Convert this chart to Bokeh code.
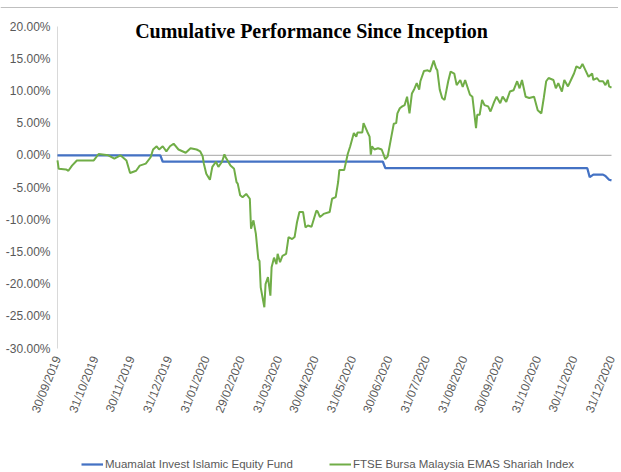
import pandas as pd
from bokeh.plotting import figure
from bokeh.models import Range1d, Label, Legend, LegendItem, ColumnDataSource
from bokeh.core.properties import value
from bokeh.embed import file_html
from bokeh.resources import INLINE

# ---------------- data ----------------
fund_name = "Muamalat Invest Islamic Equity Fund"
index_name = "FTSE Bursa Malaysia EMAS Shariah Index"

fund_dates = ["2019-09-30", "2019-12-24", "2019-12-26", "2020-06-25", "2020-06-27",
              "2020-12-11", "2020-12-13", "2020-12-16", "2020-12-24", "2020-12-26",
              "2020-12-29", "2020-12-31"]
fund_values = [0.0, 0.0, -1.0, -1.0, -2.0, -2.0, -3.4, -3.0, -3.0, -3.2, -3.8, -3.9]

index_dates = [
    "2019-09-30", "2019-10-01", "2019-10-07", "2019-10-09", "2019-10-12", "2019-10-16",
    "2019-10-30", "2019-11-03", "2019-11-11", "2019-11-16", "2019-11-21", "2019-11-26",
    "2019-11-29", "2019-12-04", "2019-12-07", "2019-12-12", "2019-12-16", "2019-12-18",
    "2019-12-21", "2019-12-23", "2019-12-26", "2019-12-29", "2020-01-01", "2020-01-04",
    "2020-01-08", "2020-01-14", "2020-01-18", "2020-01-23", "2020-01-26", "2020-01-28",
    "2020-01-29", "2020-01-31", "2020-02-03", "2020-02-05", "2020-02-08", "2020-02-10",
    "2020-02-13", "2020-02-15", "2020-02-16", "2020-02-20", "2020-02-23", "2020-02-25",
    "2020-02-26", "2020-02-28", "2020-03-01", "2020-03-04", "2020-03-07", "2020-03-08",
    "2020-03-10", "2020-03-12", "2020-03-14", "2020-03-15", "2020-03-16", "2020-03-19",
    "2020-03-20", "2020-03-22", "2020-03-24", "2020-03-25", "2020-03-27", "2020-03-29",
    "2020-03-30", "2020-04-01", "2020-04-03", "2020-04-06", "2020-04-08", "2020-04-11",
    "2020-04-13", "2020-04-15", "2020-04-17", "2020-04-20", "2020-04-22", "2020-04-24",
    "2020-04-27", "2020-05-01", "2020-05-02", "2020-05-04", "2020-05-07", "2020-05-12",
    "2020-05-14", "2020-05-17", "2020-05-19", "2020-05-20", "2020-05-24", "2020-05-27",
    "2020-05-29", "2020-06-01", "2020-06-03", "2020-06-04", "2020-06-08", "2020-06-09",
    "2020-06-12", "2020-06-14", "2020-06-15", "2020-06-16", "2020-06-18", "2020-06-21",
    "2020-06-24", "2020-06-27", "2020-06-29", "2020-07-02", "2020-07-04", "2020-07-06",
    "2020-07-07", "2020-07-09", "2020-07-11", "2020-07-13", "2020-07-15", "2020-07-17",
    "2020-07-19", "2020-07-21", "2020-07-23", "2020-07-25", "2020-07-26", "2020-07-29",
    "2020-08-01", "2020-08-03", "2020-08-06", "2020-08-08", "2020-08-09", "2020-08-11",
    "2020-08-13", "2020-08-15", "2020-08-18", "2020-08-20", "2020-08-23", "2020-08-25",
    "2020-08-28", "2020-08-30", "2020-09-01", "2020-09-05", "2020-09-07", "2020-09-10",
    "2020-09-11", "2020-09-13", "2020-09-15", "2020-09-17", "2020-09-20", "2020-09-22",
    "2020-09-25", "2020-09-27", "2020-09-30", "2020-10-02", "2020-10-05", "2020-10-08",
    "2020-10-11", "2020-10-14", "2020-10-16", "2020-10-18", "2020-10-21", "2020-10-24",
    "2020-10-28", "2020-10-31", "2020-11-03", "2020-11-05", "2020-11-07", "2020-11-09",
    "2020-11-13", "2020-11-15", "2020-11-17", "2020-11-20", "2020-11-22", "2020-11-25",
    "2020-11-27", "2020-11-30", "2020-12-02", "2020-12-05", "2020-12-07", "2020-12-10",
    "2020-12-12", "2020-12-15", "2020-12-16", "2020-12-19", "2020-12-21", "2020-12-24",
    "2020-12-26", "2020-12-28", "2020-12-29", "2020-12-31"]
index_values = [
    -0.8, -2.1, -2.2, -2.4, -1.6, -0.8,
    -0.8, 0.2, 0.0, -0.5, 0.0, -0.8,
    -2.75, -2.4, -1.6, -1.3, -0.3, 0.9,
    1.4, 0.9, 1.4, 0.6, 1.4, 1.8,
    0.9, 0.4, 1.1, 0.9, 0.6, -0.15,
    -1.3, -2.85, -3.8, -1.8, -1.0, -1.8,
    -1.0, 0.15, -0.3, -1.6, -2.1, -4.15,
    -4.4, -6.2, -6.5, -6.0, -6.75, -11.4,
    -10.1, -12.2, -16.1, -16.4, -20.5, -23.6,
    -20.0, -18.9, -21.8, -17.4, -15.9, -16.9,
    -15.3, -16.6, -15.6, -15.3, -12.7, -13.0,
    -12.7, -10.4, -8.8, -8.8, -11.2, -10.9,
    -11.1, -8.6, -8.7, -9.6, -9.1, -8.8,
    -6.75, -6.5, -4.15, -2.3, -2.3, 0.25,
    1.4, 3.45, 2.9, 3.55, 3.55, 5.0,
    3.7, 2.9, 0.1, 1.4, 0.9, 1.1,
    0.9, -0.6, -0.15, 2.9, 4.9, 5.0,
    6.5, 7.3, 7.6, 7.8, 9.1, 6.5,
    9.6, 10.3, 11.2, 10.2, 11.5, 13.1,
    13.2, 13.0, 14.7, 13.5, 13.2, 10.2,
    8.9, 8.6, 11.5, 13.0, 12.7, 10.9,
    11.7, 10.6, 11.7, 9.4, 9.1, 4.2,
    6.3, 6.3, 8.6, 7.8, 7.6, 6.8,
    8.3, 9.1, 8.1, 9.1, 8.3, 9.9,
    10.1, 11.5, 10.4, 11.7, 9.1, 8.9,
    9.1, 7.0, 6.5, 8.9, 11.5, 12.0,
    11.7, 10.4, 11.2, 9.9, 11.7, 10.7,
    11.5, 12.7, 13.8, 13.5, 14.2, 13.0,
    12.2, 12.7, 11.7, 12.0, 11.5, 11.5,
    10.9, 11.7, 10.7, 10.5]

tick_dates = ["2019-09-30", "2019-10-31", "2019-11-30", "2019-12-31", "2020-01-31",
              "2020-02-29", "2020-03-31", "2020-04-30", "2020-05-31", "2020-06-30",
              "2020-07-31", "2020-08-31", "2020-09-30", "2020-10-31", "2020-11-30",
              "2020-12-31"]
y_ticks = [20, 15, 10, 5, 0, -5, -10, -15, -20, -25, -30]

title_text = "Cumulative Performance Since Inception"

# ---------------- layout constants (pixels) ----------------
W, H = 618, 470
LEFT, RIGHT = 57, 611      # pixel x of first / last date tick
TOP, BOTTOM = 26, 348      # pixel y of top / bottom value tick

BLUE = "#4472C4"
GREEN = "#70AD47"
TXT = "#595959"
FONT = "Liberation Sans"

tick_ms = [pd.Timestamp(d).value // 10**6 for d in tick_dates]
x_start, x_end = tick_ms[0], tick_ms[-1]
y_lo, y_hi = min(y_ticks), max(y_ticks)

xpp = (x_end - x_start) / (RIGHT - LEFT)     # data units per pixel (x)
ypp = (y_hi - y_lo) / (BOTTOM - TOP)         # data units per pixel (y)

p = figure(frame_width=W, frame_height=H, output_backend="svg",
           toolbar_location=None, x_axis_location=None, y_axis_location=None,
           x_range=Range1d(x_start - LEFT * xpp, x_end + (W - RIGHT) * xpp),
           y_range=Range1d(y_lo - (H - BOTTOM) * ypp, y_hi + TOP * ypp),
           min_border=0)
p.outline_line_color = None
p.grid.visible = False
p.background_fill_color = "white"
p.border_fill_color = "white"

# top border rule of the chart box
p.segment(x0=[x_start - LEFT * xpp], y0=[y_hi + (TOP - 7) * ypp],
          x1=[x_end + (W - RIGHT) * xpp], y1=[y_hi + (TOP - 7) * ypp],
          line_color="#bfbfbf", line_width=1)

# value axis line and zero (category axis) line
p.segment(x0=[x_start], y0=[y_lo], x1=[x_start], y1=[y_hi],
          line_color="#d9d9d9", line_width=1)
p.segment(x0=[x_start], y0=[0], x1=[x_end], y1=[0],
          line_color="#a6a6a6", line_width=1)

# series
fund_src = ColumnDataSource(dict(x=pd.to_datetime(fund_dates), y=fund_values))
index_src = ColumnDataSource(dict(x=pd.to_datetime(index_dates), y=index_values))
r_fund = p.line("x", "y", source=fund_src, line_color=BLUE, line_width=2.25)
r_index = p.line("x", "y", source=index_src, line_color=GREEN, line_width=2.0)

# value-axis labels
p.text(x=[x_start - 7 * xpp] * len(y_ticks), y=y_ticks,
       text=[f"{v:.2f}%" for v in y_ticks],
       text_align="right", text_baseline="middle",
       text_font=value(FONT), text_font_size="12px", text_color=TXT)

# date labels (rotated)
p.text(x=tick_ms, y=[y_lo - 8 * ypp] * len(tick_ms),
       text=[pd.Timestamp(d).strftime("%d/%m/%Y") for d in tick_dates],
       angle=1.19, text_align="right", text_baseline="middle",
       text_font=value(FONT), text_font_size="12px", text_color=TXT)

# title
p.add_layout(Label(x=x_start + (x_end - x_start) * 0.4585, y=y_hi - 4 * ypp,
                   text=title_text, text_font="Liberation Serif",
                   text_font_style="bold", text_font_size="20px",
                   text_color="black", text_align="center",
                   text_baseline="middle"))

# legend along the bottom
legend = Legend(items=[LegendItem(label=fund_name, renderers=[r_fund]),
                       LegendItem(label=index_name, renderers=[r_index])],
                orientation="horizontal", location=(81, 0),
                label_text_font=FONT, label_text_font_size="11.5px",
                label_text_color=TXT, glyph_width=22, glyph_height=12,
                spacing=36, padding=2, margin=0, label_standoff=2,
                border_line_color=None, background_fill_alpha=0)
p.add_layout(legend)

open("out.html", "w").write(file_html(p, INLINE))
